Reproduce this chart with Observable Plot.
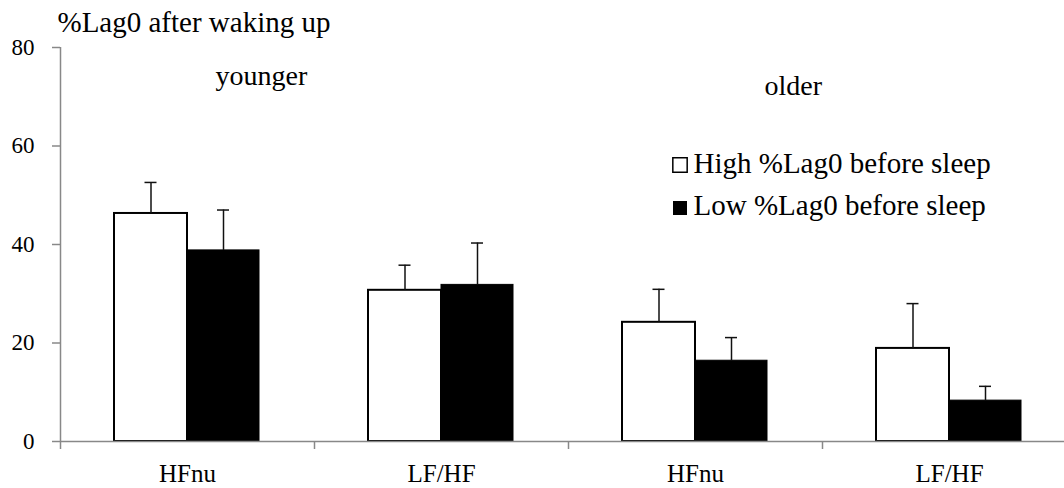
<!DOCTYPE html>
<html><head><meta charset="utf-8">
<script src="https://cdn.jsdelivr.net/npm/d3@7"></script>
<script src="https://cdn.jsdelivr.net/npm/@observablehq/plot@0.6"></script>
<style>
body{margin:0;background:#fff;overflow:hidden}
#chart svg, #chart svg text { font-family: "Liberation Serif", "Times New Roman", serif !important; }
</style>
</head><body><div id="chart"></div>
<script>
const groups = ["younger", "younger", "older", "older"];
const measures = ["HFnu", "LF/HF", "HFnu", "LF/HF"];
const highMean = [46.3, 30.7, 24.2, 18.9];
const highSd = [6.3, 5.1, 6.7, 9.1];
const lowMean = [38.8, 31.8, 16.4, 8.3];
const lowSd = [8.2, 8.5, 4.7, 2.9];
const yTicks = [0, 20, 40, 60, 80];
const seriesLabels = ["High %Lag0 before sleep", "Low %Lag0 before sleep"];
const yTitle = "%Lag0 after waking up";
const groupLabels = ["younger", "older"];

const cats = measures.map((m, i) => groups[i] + " " + m);
const measureOf = new Map(cats.map((c, i) => [c, measures[i]]));
const rows = cats.map((c, i) => ({
  cat: c,
  high: highMean[i], highTop: highMean[i] + highSd[i],
  low: lowMean[i], lowTop: lowMean[i] + lowSd[i]
}));

const ink = "#111";
const axisGray = "#888";

const chart = Plot.plot({
  width: 1064, height: 488,
  marginLeft: 60, marginRight: 0, marginTop: 47, marginBottom: 47,
  x: {domain: cats, range: [60, 1076], padding: 0},
  y: {domain: [0, 80], range: [441, 47]},
  style: "font-family: 'Liberation Serif', serif; font-size: 23px; color: black; background: white;",
  marks: [
    Plot.barY(rows, {x: "cat", y: "high", fill: "white", stroke: "black", strokeWidth: 2, insetLeft: 54, insetRight: 127}),
    Plot.barY(rows, {x: "cat", y: "low", fill: "black", stroke: "black", strokeWidth: 1, insetLeft: 127, insetRight: 55}),
    Plot.ruleX(rows, {x: "cat", y1: "high", y2: "highTop", dx: -36.5, stroke: ink, strokeWidth: 1.5}),
    Plot.tickY(rows, {x: "cat", y: "highTop", insetLeft: 84.5, insetRight: 157.5, stroke: ink, strokeWidth: 1.5}),
    Plot.ruleX(rows, {x: "cat", y1: "low", y2: "lowTop", dx: 36, stroke: ink, strokeWidth: 1.5}),
    Plot.tickY(rows, {x: "cat", y: "lowTop", insetLeft: 157, insetRight: 85, stroke: ink, strokeWidth: 1.5}),
    Plot.ruleY([0], {stroke: axisGray, strokeWidth: 1.5}),
    Plot.ruleX([cats[0]], {x: d => d, dx: -127, y1: 0, y2: 80, stroke: axisGray, strokeWidth: 1.5}),
    Plot.axisX({tickSize: 8, tickFormat: () => "", dx: -127, stroke: axisGray, strokeWidth: 1.5, label: null}),
    Plot.axisX({tickSize: 0, tickPadding: 23, fontSize: 25, tickFormat: d => measureOf.get(d), label: null}),
    Plot.axisY({ticks: yTicks, tickSize: 8, tickPadding: 18, fontSize: 23, stroke: axisGray, strokeWidth: 1.5, label: null}),
    Plot.text([yTitle], {text: d => d, frameAnchor: "top-left", dx: -3, dy: -16, textAnchor: "start", lineAnchor: "bottom", fontSize: 29}),
    Plot.text([groupLabels[0]], {text: d => d, frameAnchor: "top-left", dx: 155, dy: 37, textAnchor: "start", lineAnchor: "bottom", fontSize: 28}),
    Plot.text([groupLabels[1]], {text: d => d, frameAnchor: "top-left", dx: 704, dy: 47, textAnchor: "start", lineAnchor: "bottom", fontSize: 28}),
    Plot.dot([seriesLabels[0]], {frameAnchor: "top-left", dx: 619.5, dy: 117.5, symbol: "square", r: 8.1, fill: "white", stroke: "black", strokeWidth: 1.5}),
    Plot.dot([seriesLabels[1]], {frameAnchor: "top-left", dx: 619.5, dy: 160.5, symbol: "square", r: 7.9, fill: "black", stroke: "none"}),
    Plot.text([seriesLabels[0]], {text: d => d, frameAnchor: "top-left", dx: 633, dy: 125.7, textAnchor: "start", lineAnchor: "bottom", fontSize: 29}),
    Plot.text([seriesLabels[1]], {text: d => d, frameAnchor: "top-left", dx: 633, dy: 167, textAnchor: "start", lineAnchor: "bottom", fontSize: 29})
  ]
});
document.getElementById("chart").appendChild(chart);
</script>
</body></html>
